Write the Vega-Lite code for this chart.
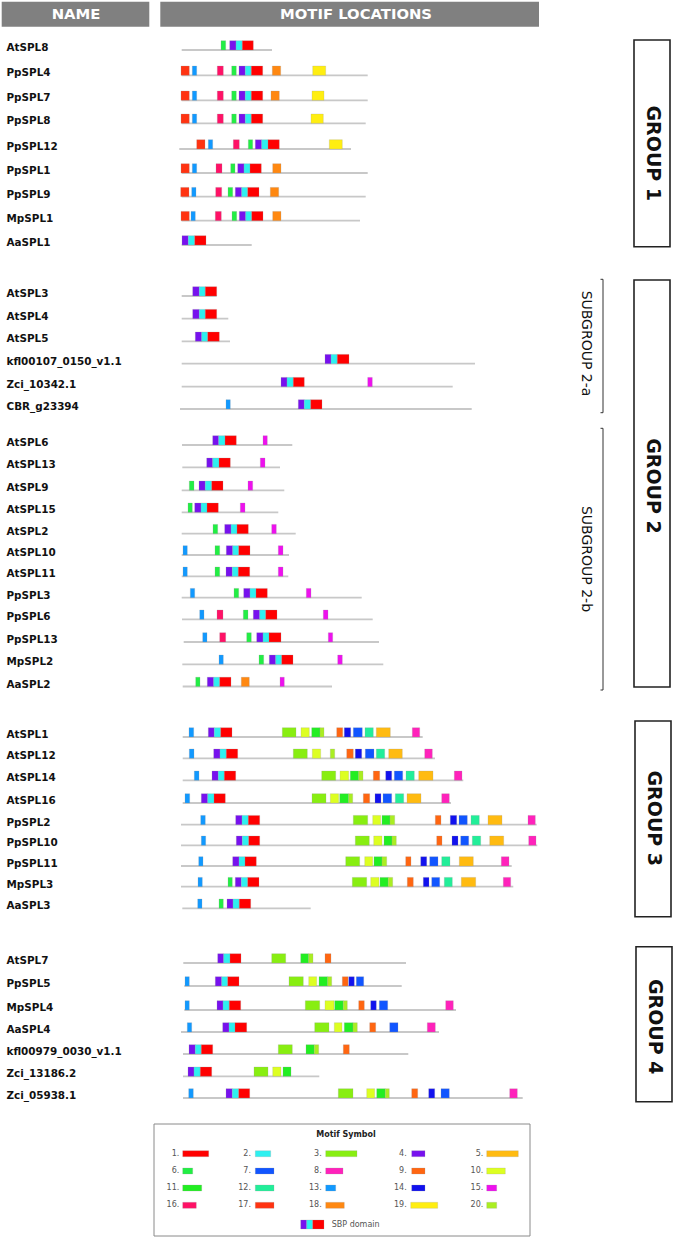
{
"$schema": "https://vega.github.io/schema/vega-lite/v6.json",
"autosize": {"type": "fit", "contains": "padding"},
"width": 675, "height": 1239, "padding": 0,
"background": "white",
"config": {"view": {"stroke": null}},
"datasets": {
"proteins": [
{"name":"AtSPL8","y":50,"x0":181.7,"x1":272},
{"name":"PpSPL4","y":75.3,"x0":181.7,"x1":367.7},
{"name":"PpSPL7","y":100.3,"x0":181.7,"x1":367.7},
{"name":"PpSPL8","y":123.3,"x0":181.7,"x1":365.7},
{"name":"PpSPL12","y":149,"x0":179.3,"x1":351},
{"name":"PpSPL1","y":173,"x0":181.7,"x1":367.7},
{"name":"PpSPL9","y":196.7,"x0":181.7,"x1":365.7},
{"name":"MpSPL1","y":220.7,"x0":181.7,"x1":360},
{"name":"AaSPL1","y":245,"x0":181.7,"x1":251.7},
{"name":"AtSPL3","y":296,"x0":181.7,"x1":216.7},
{"name":"AtSPL4","y":318.7,"x0":181.7,"x1":228.3},
{"name":"AtSPL5","y":341.3,"x0":181.7,"x1":230},
{"name":"kfl00107_0150_v1.1","y":363.7,"x0":181.7,"x1":475},
{"name":"Zci_10342.1","y":386.7,"x0":181.7,"x1":452.7},
{"name":"CBR_g23394","y":409,"x0":180,"x1":471.7},
{"name":"AtSPL6","y":445,"x0":182,"x1":292.3},
{"name":"AtSPL13","y":467.3,"x0":182.3,"x1":280},
{"name":"AtSPL9","y":490.3,"x0":181.7,"x1":284.3},
{"name":"AtSPL15","y":512.3,"x0":181.7,"x1":278.3},
{"name":"AtSPL2","y":533.7,"x0":181.7,"x1":295.7},
{"name":"AtSPL10","y":555,"x0":181.7,"x1":289},
{"name":"AtSPL11","y":576.3,"x0":181.7,"x1":288.3},
{"name":"PpSPL3","y":597.7,"x0":181.7,"x1":361.7},
{"name":"PpSPL6","y":619.3,"x0":182,"x1":372.7},
{"name":"PpSPL13","y":642,"x0":183.7,"x1":379},
{"name":"MpSPL2","y":664.3,"x0":182.3,"x1":383.3},
{"name":"AaSPL2","y":686.5,"x0":182.7,"x1":332},
{"name":"AtSPL1","y":737,"x0":182.7,"x1":422.7},
{"name":"AtSPL12","y":758.3,"x0":182.7,"x1":435},
{"name":"AtSPL14","y":780.3,"x0":182.7,"x1":463.3},
{"name":"AtSPL16","y":803,"x0":182.7,"x1":451},
{"name":"PpSPL2","y":824.7,"x0":181,"x1":536.7},
{"name":"PpSPL10","y":845.3,"x0":181,"x1":537.3},
{"name":"PpSPL11","y":866,"x0":181,"x1":511.7},
{"name":"MpSPL3","y":886.7,"x0":181,"x1":513.3},
{"name":"AaSPL3","y":908.3,"x0":182.3,"x1":310.7},
{"name":"AtSPL7","y":963,"x0":183.3,"x1":406},
{"name":"PpSPL5","y":986,"x0":184.3,"x1":401.7},
{"name":"MpSPL4","y":1010,"x0":184.3,"x1":456},
{"name":"AaSPL4","y":1032,"x0":181,"x1":439},
{"name":"kfl00979_0030_v1.1","y":1054,"x0":183,"x1":408.3},
{"name":"Zci_13186.2","y":1076.3,"x0":183,"x1":319.3},
{"name":"Zci_05938.1","y":1098,"x0":183,"x1":522.7}
],
"motifs": [
{"p":"AtSPL8","m":6,"s":221,"e":225.7},{"p":"AtSPL8","m":4,"s":229.7,"e":236},{"p":"AtSPL8","m":2,"s":236,"e":242.3},{"p":"AtSPL8","m":1,"s":242.3,"e":253.3},
{"p":"PpSPL4","m":17,"s":181,"e":189.3},{"p":"PpSPL4","m":13,"s":192.3,"e":196.7},{"p":"PpSPL4","m":16,"s":217.3,"e":223.3},{"p":"PpSPL4","m":6,"s":231.7,"e":236.3},{"p":"PpSPL4","m":4,"s":239,"e":245.3},{"p":"PpSPL4","m":2,"s":245.3,"e":251.3},{"p":"PpSPL4","m":1,"s":251.3,"e":262.7},{"p":"PpSPL4","m":18,"s":272.3,"e":280.7},{"p":"PpSPL4","m":19,"s":312.7,"e":325.7},
{"p":"PpSPL7","m":17,"s":181,"e":189.3},{"p":"PpSPL7","m":13,"s":192.3,"e":196.7},{"p":"PpSPL7","m":16,"s":217.3,"e":223.3},{"p":"PpSPL7","m":6,"s":231.7,"e":236.3},{"p":"PpSPL7","m":4,"s":239,"e":245.3},{"p":"PpSPL7","m":2,"s":245.3,"e":251.3},{"p":"PpSPL7","m":1,"s":251.3,"e":262.7},{"p":"PpSPL7","m":18,"s":271,"e":279.3},{"p":"PpSPL7","m":19,"s":312,"e":324},
{"p":"PpSPL8","m":17,"s":181,"e":189.3},{"p":"PpSPL8","m":13,"s":192.3,"e":196.7},{"p":"PpSPL8","m":16,"s":217.3,"e":223.3},{"p":"PpSPL8","m":6,"s":231.7,"e":236.3},{"p":"PpSPL8","m":4,"s":239,"e":245.3},{"p":"PpSPL8","m":2,"s":245.3,"e":251.3},{"p":"PpSPL8","m":1,"s":251.3,"e":262.7},{"p":"PpSPL8","m":19,"s":311,"e":323.3},
{"p":"PpSPL12","m":17,"s":196.7,"e":205},{"p":"PpSPL12","m":13,"s":208.3,"e":212.7},{"p":"PpSPL12","m":16,"s":233.3,"e":239.3},{"p":"PpSPL12","m":6,"s":248.3,"e":252.7},{"p":"PpSPL12","m":4,"s":255.3,"e":261.7},{"p":"PpSPL12","m":2,"s":261.7,"e":268},{"p":"PpSPL12","m":1,"s":268,"e":279.3},{"p":"PpSPL12","m":19,"s":329.3,"e":342.3},
{"p":"PpSPL1","m":17,"s":181,"e":189.3},{"p":"PpSPL1","m":13,"s":192.3,"e":196.7},{"p":"PpSPL1","m":16,"s":216,"e":222},{"p":"PpSPL1","m":6,"s":230.7,"e":235},{"p":"PpSPL1","m":4,"s":237.7,"e":244},{"p":"PpSPL1","m":2,"s":244,"e":250},{"p":"PpSPL1","m":1,"s":250,"e":261.3},{"p":"PpSPL1","m":18,"s":272.7,"e":281},
{"p":"PpSPL9","m":17,"s":180.7,"e":189},{"p":"PpSPL9","m":13,"s":191.7,"e":196},{"p":"PpSPL9","m":16,"s":215.7,"e":221.7},{"p":"PpSPL9","m":6,"s":228,"e":232.7},{"p":"PpSPL9","m":4,"s":235.3,"e":241.7},{"p":"PpSPL9","m":2,"s":241.7,"e":247.7},{"p":"PpSPL9","m":1,"s":247.7,"e":259},{"p":"PpSPL9","m":18,"s":270.3,"e":278.7},
{"p":"MpSPL1","m":17,"s":181,"e":189.3},{"p":"MpSPL1","m":13,"s":191,"e":195.3},{"p":"MpSPL1","m":16,"s":215.3,"e":221.3},{"p":"MpSPL1","m":6,"s":232,"e":236.7},{"p":"MpSPL1","m":4,"s":239.3,"e":245.7},{"p":"MpSPL1","m":2,"s":245.7,"e":251.7},{"p":"MpSPL1","m":1,"s":251.7,"e":263},{"p":"MpSPL1","m":18,"s":272.7,"e":281},
{"p":"AaSPL1","m":4,"s":182,"e":188.3},{"p":"AaSPL1","m":2,"s":188.3,"e":194.7},{"p":"AaSPL1","m":1,"s":194.7,"e":206},
{"p":"AtSPL3","m":4,"s":192.7,"e":199.3},{"p":"AtSPL3","m":2,"s":199.3,"e":205.3},{"p":"AtSPL3","m":1,"s":205.3,"e":216.7},
{"p":"AtSPL4","m":4,"s":192.7,"e":199.3},{"p":"AtSPL4","m":2,"s":199.3,"e":205.3},{"p":"AtSPL4","m":1,"s":205.3,"e":216.7},
{"p":"AtSPL5","m":4,"s":195.3,"e":201.7},{"p":"AtSPL5","m":2,"s":201.7,"e":207.7},{"p":"AtSPL5","m":1,"s":207.7,"e":219.3},
{"p":"kfl00107_0150_v1.1","m":4,"s":325,"e":331},{"p":"kfl00107_0150_v1.1","m":2,"s":331,"e":337.3},{"p":"kfl00107_0150_v1.1","m":1,"s":337.3,"e":349},
{"p":"Zci_10342.1","m":4,"s":281,"e":287},{"p":"Zci_10342.1","m":2,"s":287,"e":293.3},{"p":"Zci_10342.1","m":1,"s":293.3,"e":304.3},{"p":"Zci_10342.1","m":15,"s":367.7,"e":372.3},
{"p":"CBR_g23394","m":13,"s":226,"e":230.3},{"p":"CBR_g23394","m":4,"s":298.3,"e":304.3},{"p":"CBR_g23394","m":2,"s":304.3,"e":310.7},{"p":"CBR_g23394","m":1,"s":310.7,"e":322},
{"p":"AtSPL6","m":4,"s":212.7,"e":218.7},{"p":"AtSPL6","m":2,"s":218.7,"e":225},{"p":"AtSPL6","m":1,"s":225,"e":236.3},{"p":"AtSPL6","m":15,"s":263,"e":267.3},
{"p":"AtSPL13","m":4,"s":206.7,"e":212.7},{"p":"AtSPL13","m":2,"s":212.7,"e":219},{"p":"AtSPL13","m":1,"s":219,"e":230.3},{"p":"AtSPL13","m":15,"s":260.3,"e":265},
{"p":"AtSPL9","m":6,"s":189.3,"e":194},{"p":"AtSPL9","m":4,"s":199,"e":205.3},{"p":"AtSPL9","m":2,"s":205.3,"e":211.7},{"p":"AtSPL9","m":1,"s":211.7,"e":223},{"p":"AtSPL9","m":15,"s":248,"e":252.7},
{"p":"AtSPL15","m":6,"s":188,"e":192.3},{"p":"AtSPL15","m":4,"s":194.7,"e":201},{"p":"AtSPL15","m":2,"s":201,"e":207},{"p":"AtSPL15","m":1,"s":207,"e":218.3},{"p":"AtSPL15","m":15,"s":240.3,"e":245},
{"p":"AtSPL2","m":6,"s":213,"e":217.7},{"p":"AtSPL2","m":4,"s":224.7,"e":231},{"p":"AtSPL2","m":2,"s":231,"e":237},{"p":"AtSPL2","m":1,"s":237,"e":248.3},{"p":"AtSPL2","m":15,"s":271.7,"e":276.3},
{"p":"AtSPL10","m":13,"s":183,"e":187.3},{"p":"AtSPL10","m":6,"s":215,"e":219.7},{"p":"AtSPL10","m":4,"s":226.3,"e":232.7},{"p":"AtSPL10","m":2,"s":232.7,"e":238.7},{"p":"AtSPL10","m":1,"s":238.7,"e":250},{"p":"AtSPL10","m":15,"s":278.3,"e":283},
{"p":"AtSPL11","m":13,"s":183,"e":187.3},{"p":"AtSPL11","m":6,"s":215,"e":219.7},{"p":"AtSPL11","m":4,"s":226,"e":232.3},{"p":"AtSPL11","m":2,"s":232.3,"e":238.3},{"p":"AtSPL11","m":1,"s":238.3,"e":249.7},{"p":"AtSPL11","m":15,"s":278.3,"e":283},
{"p":"PpSPL3","m":13,"s":190.3,"e":194.7},{"p":"PpSPL3","m":6,"s":234,"e":238.7},{"p":"PpSPL3","m":4,"s":243.7,"e":250},{"p":"PpSPL3","m":2,"s":250,"e":256},{"p":"PpSPL3","m":1,"s":256,"e":267.3},{"p":"PpSPL3","m":15,"s":306.3,"e":311},
{"p":"PpSPL6","m":13,"s":199.7,"e":204},{"p":"PpSPL6","m":16,"s":217,"e":223},{"p":"PpSPL6","m":6,"s":243.3,"e":248},{"p":"PpSPL6","m":4,"s":253.3,"e":259.7},{"p":"PpSPL6","m":2,"s":259.7,"e":265.7},{"p":"PpSPL6","m":1,"s":265.7,"e":277},{"p":"PpSPL6","m":15,"s":323.3,"e":328},
{"p":"PpSPL13","m":13,"s":202.7,"e":207},{"p":"PpSPL13","m":16,"s":219.7,"e":225.7},{"p":"PpSPL13","m":6,"s":246.7,"e":251.3},{"p":"PpSPL13","m":4,"s":256.7,"e":263},{"p":"PpSPL13","m":2,"s":263,"e":269},{"p":"PpSPL13","m":1,"s":269,"e":281},{"p":"PpSPL13","m":15,"s":328.3,"e":332.7},
{"p":"MpSPL2","m":13,"s":219,"e":223.3},{"p":"MpSPL2","m":6,"s":259,"e":263.7},{"p":"MpSPL2","m":4,"s":269.3,"e":275.7},{"p":"MpSPL2","m":2,"s":275.7,"e":281.7},{"p":"MpSPL2","m":1,"s":281.7,"e":293},{"p":"MpSPL2","m":15,"s":337.7,"e":342.3},
{"p":"AaSPL2","m":6,"s":195.7,"e":200},{"p":"AaSPL2","m":4,"s":207.3,"e":213.7},{"p":"AaSPL2","m":2,"s":213.7,"e":219.7},{"p":"AaSPL2","m":1,"s":219.7,"e":231},{"p":"AaSPL2","m":18,"s":241.3,"e":249.3},{"p":"AaSPL2","m":15,"s":280,"e":284.3},
{"p":"AtSPL1","m":13,"s":189,"e":193.7},{"p":"AtSPL1","m":4,"s":208.3,"e":214.3},{"p":"AtSPL1","m":2,"s":214.3,"e":220.7},{"p":"AtSPL1","m":1,"s":220.7,"e":232},{"p":"AtSPL1","m":3,"s":282.3,"e":296},{"p":"AtSPL1","m":10,"s":301,"e":309.3},{"p":"AtSPL1","m":11,"s":311.7,"e":320},{"p":"AtSPL1","m":20,"s":320,"e":324},{"p":"AtSPL1","m":9,"s":336.7,"e":342.7},{"p":"AtSPL1","m":14,"s":344.3,"e":350.7},{"p":"AtSPL1","m":7,"s":353.3,"e":362.3},{"p":"AtSPL1","m":12,"s":365,"e":373.3},{"p":"AtSPL1","m":5,"s":376.3,"e":390.3},{"p":"AtSPL1","m":8,"s":412.3,"e":419.7},
{"p":"AtSPL12","m":13,"s":189.3,"e":194},{"p":"AtSPL12","m":4,"s":213.7,"e":220},{"p":"AtSPL12","m":2,"s":220,"e":226.3},{"p":"AtSPL12","m":1,"s":226.3,"e":237.7},{"p":"AtSPL12","m":3,"s":293.3,"e":307.3},{"p":"AtSPL12","m":10,"s":312.3,"e":320.7},{"p":"AtSPL12","m":20,"s":330.3,"e":334.7},{"p":"AtSPL12","m":9,"s":346.7,"e":353.3},{"p":"AtSPL12","m":14,"s":355.3,"e":361.7},{"p":"AtSPL12","m":7,"s":365.3,"e":374},{"p":"AtSPL12","m":12,"s":376.3,"e":384.7},{"p":"AtSPL12","m":5,"s":388.7,"e":402.3},{"p":"AtSPL12","m":8,"s":424.7,"e":432.3},
{"p":"AtSPL14","m":13,"s":194.3,"e":199},{"p":"AtSPL14","m":4,"s":212,"e":218.3},{"p":"AtSPL14","m":2,"s":218.3,"e":224.3},{"p":"AtSPL14","m":1,"s":224.3,"e":235.7},{"p":"AtSPL14","m":3,"s":321.7,"e":335.7},{"p":"AtSPL14","m":10,"s":340,"e":348.7},{"p":"AtSPL14","m":11,"s":350.3,"e":358.7},{"p":"AtSPL14","m":20,"s":358.7,"e":363},{"p":"AtSPL14","m":9,"s":373.3,"e":379.7},{"p":"AtSPL14","m":14,"s":385.7,"e":391.7},{"p":"AtSPL14","m":7,"s":394.3,"e":402.7},{"p":"AtSPL14","m":12,"s":406,"e":414.3},{"p":"AtSPL14","m":5,"s":418.7,"e":433},{"p":"AtSPL14","m":8,"s":454.3,"e":462},
{"p":"AtSPL16","m":13,"s":185,"e":189.7},{"p":"AtSPL16","m":4,"s":201.3,"e":207.7},{"p":"AtSPL16","m":2,"s":207.7,"e":214},{"p":"AtSPL16","m":1,"s":214,"e":225.3},{"p":"AtSPL16","m":3,"s":312,"e":326},{"p":"AtSPL16","m":10,"s":330.3,"e":338.7},{"p":"AtSPL16","m":11,"s":339.7,"e":348.7},{"p":"AtSPL16","m":20,"s":348.7,"e":352.7},{"p":"AtSPL16","m":9,"s":363.3,"e":369.7},{"p":"AtSPL16","m":14,"s":375,"e":381},{"p":"AtSPL16","m":7,"s":383,"e":391.7},{"p":"AtSPL16","m":12,"s":395.3,"e":403.7},{"p":"AtSPL16","m":5,"s":407,"e":421},{"p":"AtSPL16","m":8,"s":441.7,"e":449.3},
{"p":"PpSPL2","m":13,"s":200.7,"e":205.3},{"p":"PpSPL2","m":4,"s":235.7,"e":242},{"p":"PpSPL2","m":2,"s":242,"e":248.3},{"p":"PpSPL2","m":1,"s":248.3,"e":259.7},{"p":"PpSPL2","m":3,"s":353.3,"e":367.7},{"p":"PpSPL2","m":10,"s":372.7,"e":380.7},{"p":"PpSPL2","m":11,"s":382,"e":390},{"p":"PpSPL2","m":20,"s":390,"e":394.7},{"p":"PpSPL2","m":9,"s":435.3,"e":441},{"p":"PpSPL2","m":14,"s":450.3,"e":456.7},{"p":"PpSPL2","m":7,"s":459,"e":467.3},{"p":"PpSPL2","m":12,"s":471,"e":479.3},{"p":"PpSPL2","m":5,"s":488,"e":502},{"p":"PpSPL2","m":8,"s":528,"e":535.3},
{"p":"PpSPL10","m":13,"s":201.3,"e":205.7},{"p":"PpSPL10","m":4,"s":236.3,"e":242.3},{"p":"PpSPL10","m":2,"s":242.3,"e":248.7},{"p":"PpSPL10","m":1,"s":248.7,"e":259.7},{"p":"PpSPL10","m":3,"s":355.3,"e":369.3},{"p":"PpSPL10","m":10,"s":373.7,"e":382},{"p":"PpSPL10","m":11,"s":384,"e":392},{"p":"PpSPL10","m":20,"s":392,"e":396.3},{"p":"PpSPL10","m":9,"s":436.7,"e":442},{"p":"PpSPL10","m":14,"s":452,"e":458},{"p":"PpSPL10","m":7,"s":460.7,"e":468.7},{"p":"PpSPL10","m":12,"s":472.3,"e":480.7},{"p":"PpSPL10","m":5,"s":489.7,"e":503.7},{"p":"PpSPL10","m":8,"s":528.7,"e":536},
{"p":"PpSPL11","m":13,"s":198.7,"e":203},{"p":"PpSPL11","m":4,"s":232.7,"e":239},{"p":"PpSPL11","m":2,"s":239,"e":245},{"p":"PpSPL11","m":1,"s":245,"e":256.3},{"p":"PpSPL11","m":3,"s":345.7,"e":359.7},{"p":"PpSPL11","m":10,"s":364.7,"e":372.7},{"p":"PpSPL11","m":11,"s":374,"e":382},{"p":"PpSPL11","m":20,"s":382,"e":386.7},{"p":"PpSPL11","m":9,"s":405.7,"e":411},{"p":"PpSPL11","m":14,"s":420.7,"e":426.7},{"p":"PpSPL11","m":7,"s":429.7,"e":438},{"p":"PpSPL11","m":12,"s":441.7,"e":450},{"p":"PpSPL11","m":5,"s":459.3,"e":473.3},{"p":"PpSPL11","m":8,"s":501.3,"e":509},
{"p":"MpSPL3","m":13,"s":198,"e":202.3},{"p":"MpSPL3","m":6,"s":228,"e":232.3},{"p":"MpSPL3","m":4,"s":235.3,"e":241.3},{"p":"MpSPL3","m":2,"s":241.3,"e":247.7},{"p":"MpSPL3","m":1,"s":247.7,"e":259},{"p":"MpSPL3","m":3,"s":352.3,"e":366.7},{"p":"MpSPL3","m":10,"s":370.7,"e":379},{"p":"MpSPL3","m":11,"s":380,"e":388.3},{"p":"MpSPL3","m":20,"s":388.3,"e":392.7},{"p":"MpSPL3","m":9,"s":407.3,"e":413.3},{"p":"MpSPL3","m":14,"s":423.3,"e":429},{"p":"MpSPL3","m":7,"s":431.7,"e":439.7},{"p":"MpSPL3","m":12,"s":444.3,"e":452.3},{"p":"MpSPL3","m":5,"s":461.3,"e":475.7},{"p":"MpSPL3","m":8,"s":503.3,"e":510.7},
{"p":"AaSPL3","m":13,"s":197.7,"e":202},{"p":"AaSPL3","m":6,"s":219,"e":223.3},{"p":"AaSPL3","m":4,"s":227,"e":233},{"p":"AaSPL3","m":2,"s":233,"e":239.3},{"p":"AaSPL3","m":1,"s":239.3,"e":250.7},
{"p":"AtSPL7","m":4,"s":217.7,"e":223.7},{"p":"AtSPL7","m":2,"s":223.7,"e":230},{"p":"AtSPL7","m":1,"s":230,"e":241},{"p":"AtSPL7","m":3,"s":271.7,"e":285.7},{"p":"AtSPL7","m":11,"s":300.7,"e":308.7},{"p":"AtSPL7","m":20,"s":308.7,"e":313},{"p":"AtSPL7","m":9,"s":325,"e":331},
{"p":"PpSPL5","m":13,"s":185,"e":189.3},{"p":"PpSPL5","m":4,"s":215.3,"e":221.7},{"p":"PpSPL5","m":2,"s":221.7,"e":227.7},{"p":"PpSPL5","m":1,"s":227.7,"e":239},{"p":"PpSPL5","m":3,"s":289,"e":303.3},{"p":"PpSPL5","m":10,"s":308.7,"e":316.7},{"p":"PpSPL5","m":11,"s":319,"e":327.7},{"p":"PpSPL5","m":20,"s":327.7,"e":331.7},{"p":"PpSPL5","m":9,"s":342.3,"e":348},{"p":"PpSPL5","m":14,"s":348.7,"e":354.3},{"p":"PpSPL5","m":7,"s":356.3,"e":363.7},
{"p":"MpSPL4","m":13,"s":185,"e":189.3},{"p":"MpSPL4","m":4,"s":217,"e":223},{"p":"MpSPL4","m":2,"s":223,"e":229.3},{"p":"MpSPL4","m":1,"s":229.3,"e":240.7},{"p":"MpSPL4","m":3,"s":305.3,"e":319.7},{"p":"MpSPL4","m":10,"s":325,"e":334},{"p":"MpSPL4","m":11,"s":334.7,"e":343.3},{"p":"MpSPL4","m":20,"s":343.3,"e":347.3},{"p":"MpSPL4","m":9,"s":358.7,"e":364.3},{"p":"MpSPL4","m":14,"s":370.7,"e":376.3},{"p":"MpSPL4","m":7,"s":379.3,"e":387.7},{"p":"MpSPL4","m":8,"s":445.7,"e":453.3},
{"p":"AaSPL4","m":13,"s":187.3,"e":191.7},{"p":"AaSPL4","m":4,"s":222.7,"e":229},{"p":"AaSPL4","m":2,"s":229,"e":235},{"p":"AaSPL4","m":1,"s":235,"e":246.7},{"p":"AaSPL4","m":3,"s":314.7,"e":329},{"p":"AaSPL4","m":10,"s":334.3,"e":342},{"p":"AaSPL4","m":11,"s":344.3,"e":353},{"p":"AaSPL4","m":20,"s":353,"e":357.3},{"p":"AaSPL4","m":9,"s":369.7,"e":375.7},{"p":"AaSPL4","m":7,"s":389.7,"e":398},{"p":"AaSPL4","m":8,"s":427.3,"e":435.3},
{"p":"kfl00979_0030_v1.1","m":4,"s":189,"e":195.3},{"p":"kfl00979_0030_v1.1","m":2,"s":195.3,"e":201.3},{"p":"kfl00979_0030_v1.1","m":1,"s":201.3,"e":212.7},{"p":"kfl00979_0030_v1.1","m":3,"s":278.3,"e":292.3},{"p":"kfl00979_0030_v1.1","m":11,"s":306,"e":314.3},{"p":"kfl00979_0030_v1.1","m":20,"s":314.3,"e":318.7},{"p":"kfl00979_0030_v1.1","m":9,"s":343.3,"e":349.3},
{"p":"Zci_13186.2","m":4,"s":188,"e":194},{"p":"Zci_13186.2","m":2,"s":194,"e":200.3},{"p":"Zci_13186.2","m":1,"s":200.3,"e":211.7},{"p":"Zci_13186.2","m":3,"s":254,"e":268},{"p":"Zci_13186.2","m":10,"s":272.7,"e":281},{"p":"Zci_13186.2","m":11,"s":283,"e":291},
{"p":"Zci_05938.1","m":13,"s":188.7,"e":193.3},{"p":"Zci_05938.1","m":4,"s":226,"e":232.3},{"p":"Zci_05938.1","m":2,"s":232.3,"e":238.7},{"p":"Zci_05938.1","m":1,"s":238.7,"e":249.7},{"p":"Zci_05938.1","m":3,"s":338.3,"e":353},{"p":"Zci_05938.1","m":10,"s":366.7,"e":374.7},{"p":"Zci_05938.1","m":11,"s":376.7,"e":385.3},{"p":"Zci_05938.1","m":20,"s":385.3,"e":389.3},{"p":"Zci_05938.1","m":9,"s":411.7,"e":417.7},{"p":"Zci_05938.1","m":14,"s":428.7,"e":434.7},{"p":"Zci_05938.1","m":7,"s":441,"e":449.3},{"p":"Zci_05938.1","m":8,"s":509.7,"e":517.3}
],
"legend": [
{"m":1,"lab":"1.","lx":179.3,"s":182.7,"e":208.7,"y":1153.7},
{"m":2,"lab":"2.","lx":251,"s":255.3,"e":270.7,"y":1153.7},
{"m":3,"lab":"3.","lx":321.7,"s":325.7,"e":357,"y":1153.7},
{"m":4,"lab":"4.","lx":406.7,"s":411.7,"e":425,"y":1153.7},
{"m":5,"lab":"5.","lx":483.3,"s":486.7,"e":518.3,"y":1153.7},
{"m":6,"lab":"6.","lx":179.3,"s":182.7,"e":192.7,"y":1171},
{"m":7,"lab":"7.","lx":251,"s":255.3,"e":274,"y":1171},
{"m":8,"lab":"8.","lx":321.7,"s":325.7,"e":343,"y":1171},
{"m":9,"lab":"9.","lx":406.7,"s":411.7,"e":425,"y":1171},
{"m":10,"lab":"10.","lx":483.3,"s":486.7,"e":505.3,"y":1171},
{"m":11,"lab":"11.","lx":179.3,"s":182.7,"e":201.7,"y":1188},
{"m":12,"lab":"12.","lx":251,"s":255.3,"e":274,"y":1188},
{"m":13,"lab":"13.","lx":321.7,"s":325.7,"e":335.7,"y":1188},
{"m":14,"lab":"14.","lx":406.7,"s":411.7,"e":425,"y":1188},
{"m":15,"lab":"15.","lx":483.3,"s":486.7,"e":496.7,"y":1188},
{"m":16,"lab":"16.","lx":179.3,"s":182.7,"e":196.3,"y":1205.3},
{"m":17,"lab":"17.","lx":251,"s":255.3,"e":274,"y":1205.3},
{"m":18,"lab":"18.","lx":321.7,"s":325.7,"e":344.3,"y":1205.3},
{"m":19,"lab":"19.","lx":406.7,"s":410.7,"e":437.7,"y":1205.3},
{"m":20,"lab":"20.","lx":483.3,"s":486.7,"e":496.7,"y":1205.3}
],
"sbp": [
{"m":4,"s":300.7,"e":306.7,"y":1224.5},
{"m":2,"s":306.7,"e":312.7,"y":1224.5},
{"m":1,"s":312.7,"e":324,"y":1224.5}
],
"groups": [
{"label":"GROUP 1","x":634,"x2":670,"y":40,"y2":246.7,"tx":653,"ty":153.3},
{"label":"GROUP 2","x":634,"x2":670,"y":280,"y2":687,"tx":653,"ty":486},
{"label":"GROUP 3","x":635,"x2":671,"y":721,"y2":916.7,"tx":654,"ty":818.3},
{"label":"GROUP 4","x":636,"x2":672,"y":946.7,"y2":1101.7,"tx":654.5,"ty":1026.7}
],
"subgroups": [
{"label":"SUBGROUP 2-a","y":279.3,"y2":412.7,"ty":343.5},
{"label":"SUBGROUP 2-b","y":428.3,"y2":690,"ty":559}
],
"header": [
{"t":"NAME","x":1.7,"x2":149.3,"tx":76},
{"t":"MOTIF LOCATIONS","x":160.3,"x2":539,"tx":356}
]
},
"layer": [
{
"data": {"name": "header"},
"mark": {"type": "rect", "color": "#808080"},
"encoding": {
"x": {"field": "x", "type": "quantitative", "scale": {"domain": [0, 675], "nice": false, "zero": false}, "axis": null},
"x2": {"field": "x2"},
"y": {"datum": 1.7, "type": "quantitative", "scale": {"domain": [0, 1239], "nice": false, "zero": false, "reverse": true}, "axis": null},
"y2": {"datum": 26.7}
}
},
{
"data": {"name": "header"},
"mark": {"type": "text", "color": "white", "font": "DejaVu Sans", "fontWeight": "bold", "fontSize": 14.8, "align": "center", "baseline": "middle"},
"encoding": {
"x": {"field": "tx", "type": "quantitative"},
"y": {"datum": 14.5, "type": "quantitative"},
"text": {"field": "t"}
}
},
{
"data": {"name": "proteins"},
"mark": {"type": "rule", "color": "#c8c8c8", "strokeWidth": 1.8},
"encoding": {
"x": {"field": "x0", "type": "quantitative"},
"x2": {"field": "x1"},
"y": {"field": "y", "type": "quantitative"}
}
},
{
"data": {"name": "proteins"},
"mark": {"type": "text", "color": "#111111", "font": "DejaVu Sans", "fontWeight": "bold", "fontSize": 10.4, "align": "left", "baseline": "alphabetic", "dy": 1},
"encoding": {
"x": {"datum": 6.5, "type": "quantitative"},
"y": {"field": "y", "type": "quantitative"},
"text": {"field": "name"}
}
},
{
"data": {"name": "motifs"},
"transform": [{"lookup": "p", "from": {"data": {"name": "proteins"}, "key": "name", "fields": ["y"]}}],
"mark": {"type": "rect", "height": 9.3, "yOffset": -4.65, "stroke": "#999999", "strokeWidth": 0.4, "strokeOpacity": 0.6},
"encoding": {
"x": {"field": "s", "type": "quantitative"},
"x2": {"field": "e"},
"y": {"field": "y", "type": "quantitative"},
"color": {"field": "m", "type": "nominal", "legend": null, "scale": {"domain": [1,2,3,4,5,6,7,8,9,10,11,12,13,14,15,16,17,18,19,20], "range": ["#ff0000","#2ef0f0","#88ee11","#7711ee","#ffbb11","#22ee44","#1155ff","#ff22bb","#ff6611","#ddff22","#22ee22","#22ee99","#1199ff","#1111ee","#ee11ee","#ff1166","#ff3311","#ff8811","#ffee11","#aaee22"]}}
}
},
{
"data": {"name": "groups"},
"mark": {"type": "rect", "fill": "white", "fillOpacity": 0, "stroke": "#222222", "strokeWidth": 1.6},
"encoding": {
"x": {"field": "x", "type": "quantitative"},
"x2": {"field": "x2"},
"y": {"field": "y", "type": "quantitative"},
"y2": {"field": "y2"}
}
},
{
"data": {"name": "groups"},
"mark": {"type": "text", "angle": 90, "color": "#111111", "font": "DejaVu Sans", "fontWeight": "bold", "fontSize": 19, "align": "center", "baseline": "middle"},
"encoding": {
"x": {"field": "tx", "type": "quantitative"},
"y": {"field": "ty", "type": "quantitative"},
"text": {"field": "label"}
}
},
{
"data": {"name": "subgroups"},
"mark": {"type": "rule", "color": "#333333", "strokeWidth": 1},
"encoding": {
"x": {"datum": 603, "type": "quantitative"},
"y": {"field": "y", "type": "quantitative"},
"y2": {"field": "y2"}
}
},
{
"data": {"name": "subgroups"},
"mark": {"type": "rule", "color": "#333333", "strokeWidth": 1},
"encoding": {
"x": {"datum": 600.5, "type": "quantitative"},
"x2": {"datum": 603},
"y": {"field": "y", "type": "quantitative"}
}
},
{
"data": {"name": "subgroups"},
"mark": {"type": "rule", "color": "#333333", "strokeWidth": 1},
"encoding": {
"x": {"datum": 600.5, "type": "quantitative"},
"x2": {"datum": 603},
"y": {"field": "y2", "type": "quantitative"}
}
},
{
"data": {"name": "subgroups"},
"mark": {"type": "text", "angle": 90, "color": "#111111", "font": "DejaVu Sans", "fontSize": 14, "align": "center", "baseline": "middle"},
"encoding": {
"x": {"datum": 586, "type": "quantitative"},
"y": {"field": "ty", "type": "quantitative"},
"text": {"field": "label"}
}
},
{
"data": {"values": [{"b": 1}]},
"mark": {"type": "rect", "fill": "white", "stroke": "#8a8a8a", "strokeWidth": 1},
"encoding": {
"x": {"datum": 154, "type": "quantitative"},
"x2": {"datum": 530},
"y": {"datum": 1124, "type": "quantitative"},
"y2": {"datum": 1236}
}
},
{
"data": {"values": [{"t": "Motif Symbol"}]},
"mark": {"type": "text", "color": "#222222", "font": "DejaVu Sans", "fontWeight": "bold", "fontSize": 8, "align": "center", "baseline": "middle"},
"encoding": {
"x": {"datum": 346, "type": "quantitative"},
"y": {"datum": 1135, "type": "quantitative"},
"text": {"field": "t"}
}
},
{
"data": {"name": "legend"},
"mark": {"type": "text", "color": "#555555", "font": "DejaVu Sans", "fontSize": 8, "align": "right", "baseline": "middle"},
"encoding": {
"x": {"field": "lx", "type": "quantitative"},
"y": {"field": "y", "type": "quantitative"},
"text": {"field": "lab"}
}
},
{
"data": {"name": "legend"},
"mark": {"type": "rect", "height": 6, "stroke": "#999999", "strokeWidth": 0.4, "strokeOpacity": 0.6},
"encoding": {
"x": {"field": "s", "type": "quantitative"},
"x2": {"field": "e"},
"y": {"field": "y", "type": "quantitative"},
"color": {"field": "m", "type": "nominal", "legend": null}
}
},
{
"data": {"name": "sbp"},
"mark": {"type": "rect", "height": 9, "stroke": "#999999", "strokeWidth": 0.4, "strokeOpacity": 0.6},
"encoding": {
"x": {"field": "s", "type": "quantitative"},
"x2": {"field": "e"},
"y": {"field": "y", "type": "quantitative"},
"color": {"field": "m", "type": "nominal", "legend": null}
}
},
{
"data": {"values": [{"t": "SBP domain"}]},
"mark": {"type": "text", "color": "#555555", "font": "DejaVu Sans", "fontSize": 8, "align": "left", "baseline": "middle"},
"encoding": {
"x": {"datum": 331.7, "type": "quantitative"},
"y": {"datum": 1224.5, "type": "quantitative"},
"text": {"field": "t"}
}
}
]
}
